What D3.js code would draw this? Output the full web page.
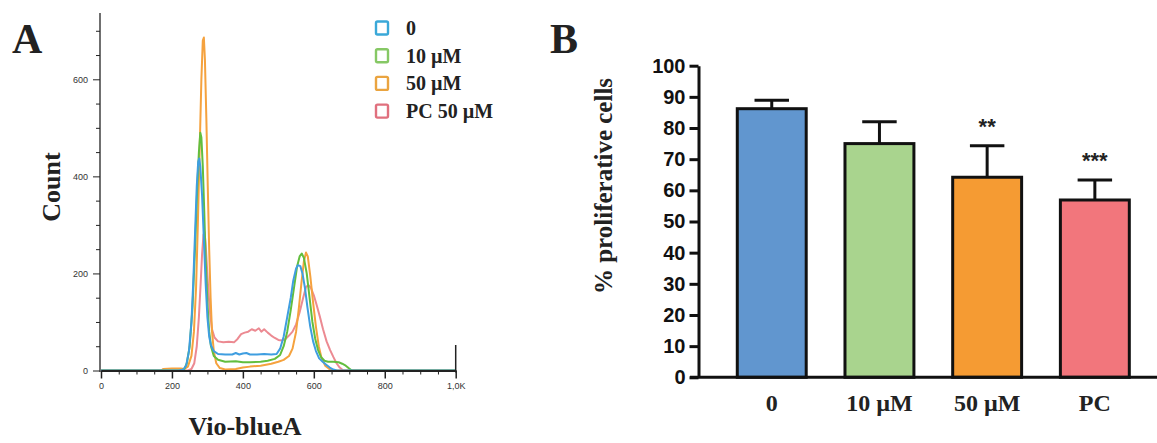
<!DOCTYPE html>
<html>
<head>
<meta charset="utf-8">
<script src="https://cdn.jsdelivr.net/npm/d3@7"></script>
<style>
  html, body { margin: 0; padding: 0; background: #fff; }
  svg { display: block; }
</style>
</head>
<body>
<svg id="chart" width="1157" height="443"></svg>
<script>
// ---------------- Panel A data (flow histogram) ----------------
const histCategories = ["0", "10 µM", "50 µM", "PC 50 µM"];
const histXTicks = [0, 200, 400, 600, 800, 1000];
const histXTickLabels = ["0", "200", "400", "600", "800", "1,0K"];
const histYTicks = [0, 200, 400, 600];

const histSeries0 = [[0,0],[220,0],[232,2],[240,10],[248,40],[255,100],[260,180],[265,280],[270,380],[274,430],[277,437],[280,420],[285,360],[290,270],[295,180],[300,110],[305,70],[310,52],[318,40],[330,34],[350,33],[370,33],[380,36],[390,33],[400,35],[410,36],[420,33],[440,33],[460,34],[480,33],[495,34],[505,45],[515,70],[525,110],[535,150],[542,185],[550,210],[555,217],[562,215],[568,200],[575,170],[582,130],[590,90],[598,60],[606,40],[615,25],[625,18],[635,12],[645,6],[655,2],[665,0],[1000,0]];
const histSeries10 = [[0,0],[225,0],[235,3],[242,15],[250,50],[258,130],[265,250],[271,370],[276,450],[280,490],[283,480],[287,420],[291,330],[295,230],[300,140],[305,80],[310,50],[318,30],[330,22],[350,18],[380,19],[400,17],[420,17],[450,18],[470,20],[490,24],[505,32],[515,50],[525,80],[535,125],[545,175],[553,215],[560,235],[566,241],[572,232],[580,200],[588,150],[596,100],[604,65],[612,42],[620,28],[630,20],[640,18],[655,18],[670,17],[680,14],[690,10],[698,5],[707,0],[1000,0]];
const histSeries50 = [[0,0],[170,0],[175,3],[200,4],[225,4],[235,3],[245,8],[255,30],[262,80],[268,170],[273,300],[278,450],[283,600],[287,680],[290,686],[293,640],[297,520],[301,380],[305,250],[309,150],[313,80],[318,40],[325,15],[335,5],[350,2],[380,3],[400,6],[420,8],[450,10],[480,14],[500,18],[515,22],[530,30],[540,45],[550,80],[558,130],[565,180],[572,225],[578,243],[583,235],[590,195],[598,140],[606,90],[614,50],[622,25],[632,10],[642,4],[652,0],[1000,0]];
const histSeriesPC = [[0,0],[245,0],[255,3],[263,15],[270,50],[276,110],[281,180],[285,240],[289,280],[292,285],[295,260],[299,210],[303,160],[308,115],[313,85],[320,68],[330,60],[345,58],[360,59],[375,58],[385,65],[395,75],[405,78],[415,80],[425,85],[435,82],[445,87],[452,80],[460,85],[470,78],[480,72],[490,67],[500,63],[510,62],[520,65],[530,72],[540,80],[550,95],[560,120],[570,150],[578,172],[585,176],[592,170],[600,155],[608,135],[617,111],[626,85],[636,60],[646,42],[655,28],[664,15],[673,6],[683,0],[1000,0]];

const histLineColors = ["#3f9ee0", "#62be3e", "#f5a23e", "#ec8a92"];
const histLegendColors = ["#3aa8d8", "#86c865", "#eaa440", "#e0707e"];

// ---------------- Panel B data (bar chart) ----------------
const barCategories = ["0", "10 µM", "50 µM", "PC"];
const barMeans = [86.2, 75.0, 64.2, 56.9];
const barErrors = [2.7, 7.0, 10.1, 6.4];
const barStars = ["", "", "**", "***"];
const barYTicks = [0, 10, 20, 30, 40, 50, 60, 70, 80, 90, 100];
const barColors = ["#6196cf", "#a9d48e", "#f59b33", "#f2767c"];

const svg = d3.select("#chart");
const serif = "'Liberation Serif', 'Times New Roman', serif";
const sans = "'Liberation Sans', Arial, sans-serif";

// ================= Panel A =================
const xA = d3.scaleLinear().domain([0, 1000]).range([101, 455.7]);
const yA = d3.scaleLinear().domain([0, 600]).range([370.5, 79.3]);

const gA = svg.append("g");

// panel letter
gA.append("text").attr("x", 12).attr("y", 53)
  .attr("font-family", serif).attr("font-weight", "bold").attr("font-size", 42)
  .attr("fill", "#222").text("A");

// curves
const lineA = d3.line().x(d => xA(d[0])).y(d => yA(d[1]));
const histAll = [histSeriesPC, histSeries50, histSeries10, histSeries0];
const histColorOrder = [histLineColors[3], histLineColors[2], histLineColors[1], histLineColors[0]];
gA.selectAll("path.curve").data(histAll).join("path")
  .attr("class", "curve")
  .attr("d", lineA)
  .attr("fill", "none")
  .attr("stroke", (d, i) => histColorOrder[i])
  .attr("stroke-width", 2)
  .attr("stroke-linejoin", "round");

// y axis
const yAxisA = d3.axisLeft(yA)
  .tickValues(d3.range(0, 701, 50))
  .tickFormat(d => histYTicks.includes(d) ? String(d) : "")
  .tickSizeOuter(0);
const gyA = gA.append("g").attr("transform", `translate(${xA(0) - 1},0)`).call(yAxisA);
gyA.select(".domain").remove();
gyA.selectAll(".tick line").attr("x2", d => histYTicks.includes(d) ? -7 : -4)
  .attr("stroke", "#222").attr("stroke-width", 1);
gyA.selectAll(".tick text").attr("x", -12).attr("font-family", sans)
  .attr("font-size", 9).attr("fill", "#333");
gA.append("line").attr("x1", xA(0) - 1).attr("x2", xA(0) - 1)
  .attr("y1", 13).attr("y2", 372).attr("stroke", "#222").attr("stroke-width", 1.3);

// x axis
const xAxisA = d3.axisBottom(xA)
  .tickValues(d3.range(0, 1001, 50))
  .tickFormat(d => { const k = histXTicks.indexOf(d); return k >= 0 ? histXTickLabels[k] : ""; })
  .tickSizeOuter(0);
const gxA = gA.append("g").attr("transform", `translate(0,${yA(0)})`).call(xAxisA);
gxA.select(".domain").attr("stroke", "#222").attr("stroke-width", 2);
gxA.selectAll(".tick line").attr("y2", d => histXTicks.includes(d) ? 8 : 4)
  .attr("stroke", "#222").attr("stroke-width", d => histXTicks.includes(d) ? 1.5 : 1);
gxA.selectAll(".tick text").attr("y", 12).attr("font-family", sans)
  .attr("font-size", 9).attr("fill", "#333");
// right-end marker
gA.append("line").attr("x1", xA(1000)).attr("x2", xA(1000))
  .attr("y1", 345).attr("y2", yA(0) + 2).attr("stroke", "#222").attr("stroke-width", 1.5);

// axis titles
gA.append("text").attr("transform", "translate(60,187) rotate(-90)")
  .attr("text-anchor", "middle").attr("font-family", serif).attr("font-weight", "bold")
  .attr("font-size", 26).attr("fill", "#222").text("Count");
gA.append("text").attr("x", 245).attr("y", 435)
  .attr("text-anchor", "middle").attr("font-family", serif).attr("font-weight", "bold")
  .attr("font-size", 26).attr("fill", "#222").text("Vio-blueA");

// legend
const legA = gA.append("g");
const legRows = legA.selectAll("g").data(histCategories).join("g")
  .attr("transform", (d, i) => `translate(376,${28 + i * 27.7})`);
legRows.append("rect").attr("x", 0).attr("y", -6.5).attr("width", 12).attr("height", 13)
  .attr("rx", 1.5).attr("fill", "#fff")
  .attr("stroke", (d, i) => histLegendColors[i]).attr("stroke-width", 2.4);
legRows.append("text").attr("x", 30).attr("y", 0).attr("dy", "0.35em")
  .attr("font-family", serif).attr("font-weight", "bold").attr("font-size", 20)
  .attr("fill", "#222").text(d => d);

// ================= Panel B =================
const xB = d3.scaleBand().domain(barCategories).range([717.9, 1148.7])
  .paddingInner(0.36).paddingOuter(0.18);
const yB = d3.scaleLinear().domain([0, 100]).range([377.3, 65.7]);
const gB = svg.append("g");

gB.append("text").attr("x", 550).attr("y", 53)
  .attr("font-family", serif).attr("font-weight", "bold").attr("font-size", 42)
  .attr("fill", "#222").text("B");

// bars
gB.selectAll("rect.bar").data(barCategories).join("rect")
  .attr("class", "bar")
  .attr("x", d => xB(d))
  .attr("y", (d, i) => yB(barMeans[i]))
  .attr("width", xB.bandwidth())
  .attr("height", (d, i) => yB(0) - yB(barMeans[i]))
  .attr("fill", (d, i) => barColors[i])
  .attr("stroke", "#111").attr("stroke-width", 3);

// error bars
const errG = gB.selectAll("g.err").data(barCategories).join("g").attr("class", "err");
errG.append("line")
  .attr("x1", d => xB(d) + xB.bandwidth() / 2).attr("x2", d => xB(d) + xB.bandwidth() / 2)
  .attr("y1", (d, i) => yB(barMeans[i])).attr("y2", (d, i) => yB(barMeans[i] + barErrors[i]))
  .attr("stroke", "#111").attr("stroke-width", 3);
errG.append("line")
  .attr("x1", d => xB(d) + xB.bandwidth() / 4).attr("x2", d => xB(d) + xB.bandwidth() * 3 / 4)
  .attr("y1", (d, i) => yB(barMeans[i] + barErrors[i])).attr("y2", (d, i) => yB(barMeans[i] + barErrors[i]))
  .attr("stroke", "#111").attr("stroke-width", 3);

// significance stars
gB.selectAll("text.star").data(barCategories).join("text")
  .attr("class", "star")
  .attr("x", d => xB(d) + xB.bandwidth() / 2)
  .attr("y", (d, i) => yB(barMeans[i] + barErrors[i]) - 12)
  .attr("text-anchor", "middle").attr("font-family", sans).attr("font-weight", "bold")
  .attr("font-size", 22).attr("fill", "#222")
  .text((d, i) => barStars[i]);

// y axis
const yAxisB = d3.axisLeft(yB).tickValues(barYTicks).tickSize(9).tickSizeOuter(0).tickPadding(4);
const gyB = gB.append("g").attr("transform", "translate(698.5,0)").call(yAxisB);
gyB.select(".domain").attr("stroke", "#111").attr("stroke-width", 3);
gyB.selectAll(".tick line").attr("stroke", "#111").attr("stroke-width", 3);
gyB.selectAll(".tick text").attr("font-family", sans).attr("font-weight", "bold")
  .attr("font-size", 20).attr("fill", "#111");

// x axis line
const xAxisB = d3.axisBottom(xB).tickSize(0).tickPadding(0);
const gxB = gB.append("g").attr("transform", `translate(0,${yB(0)})`).call(xAxisB);
gxB.select(".domain").remove();
gB.append("line").attr("x1", 690).attr("x2", 1157).attr("y1", yB(0)).attr("y2", yB(0))
  .attr("stroke", "#111").attr("stroke-width", 3);
gxB.selectAll(".tick text").attr("y", 34).attr("dy", 0)
  .attr("font-family", serif).attr("font-weight", "bold")
  .attr("font-size", 24).attr("fill", "#222");

gB.append("text").attr("transform", "translate(612,186) rotate(-90)")
  .attr("text-anchor", "middle").attr("font-family", serif).attr("font-weight", "bold")
  .attr("font-size", 25).attr("fill", "#222").text("% proliferative cells");
</script>
</body>
</html>
